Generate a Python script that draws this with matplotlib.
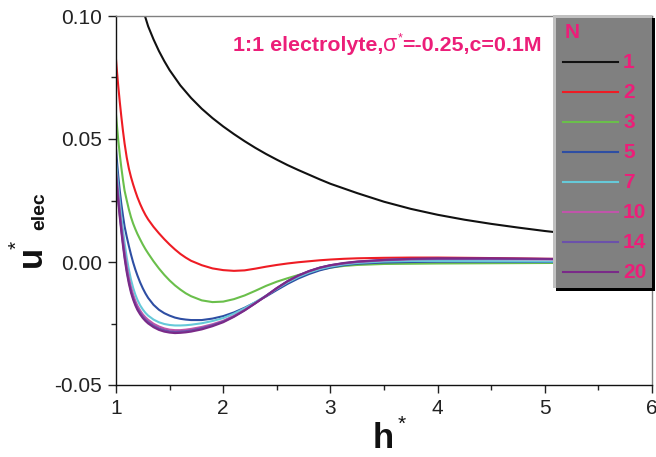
import matplotlib
matplotlib.use('Agg')
import matplotlib.pyplot as plt
from matplotlib.lines import Line2D
from matplotlib.patches import Rectangle
from matplotlib.ticker import MultipleLocator, FixedLocator

plt.rcParams['font.family'] = ['Liberation Sans', 'DejaVu Sans']

# ---------------- data ----------------
N_labels = ['1', '2', '3', '5', '7', '10', '14', '20']
colors = ['#111111', '#ee1c24', '#6abf4b', '#2e4ea3', '#66c9d9', '#c055aa', '#6b51aa', '#7a2a88']

h_N1 = [1.2, 1.25, 1.27, 1.3, 1.35, 1.4, 1.45, 1.5, 1.6, 1.7, 1.8, 1.9, 2.0, 2.1, 2.2, 2.3,
        2.4, 2.5, 2.6, 2.7, 2.8, 2.9, 3.0, 3.25, 3.5, 3.75, 4.0, 4.25, 4.5, 4.75, 5.0,
        5.25, 5.5, 5.75, 6.0]
u_N1 = [0.1120, 0.1035, 0.1000, 0.0958, 0.0905, 0.0858, 0.0817, 0.0780, 0.0718, 0.0667,
        0.0623, 0.0585, 0.0551, 0.0520, 0.0491, 0.0464, 0.0439, 0.0416, 0.0394, 0.0374,
        0.0355, 0.0336, 0.0318, 0.0280, 0.0245, 0.0216, 0.0192, 0.0172, 0.0155, 0.0140,
        0.0126, 0.0114, 0.0104, 0.0095, 0.0087]

h = [1.0, 1.01, 1.02, 1.035, 1.05, 1.065, 1.08,
     1.1, 1.12, 1.14, 1.16, 1.18, 1.2,
     1.225, 1.25, 1.275, 1.3,
     1.35, 1.4, 1.45, 1.5, 1.55, 1.6, 1.65, 1.7,
     1.8, 1.9, 2.0, 2.1, 2.2, 2.3, 2.4, 2.5, 2.6, 2.7, 2.8, 2.9, 3.0,
     3.125, 3.25, 3.5, 3.75, 4.0, 4.5, 5.0, 5.5, 6.0]

u_N2 = [0.0824, 0.0770, 0.0720, 0.0652, 0.0590, 0.0533, 0.0482,
        0.0425, 0.0380, 0.0345, 0.0315, 0.0288, 0.0263,
        0.0236, 0.0212, 0.0191, 0.0173,
        0.0143, 0.0117, 0.0093, 0.0071, 0.0051, 0.0033, 0.0018, 0.0005,
        -0.0013, -0.0026, -0.0033, -0.0036, -0.0034, -0.0027, -0.0019, -0.0012, -0.0006,
        -0.0001, 0.0003, 0.0007, 0.0010,
        0.0013, 0.0015, 0.0017, 0.0018, 0.0018, 0.0016, 0.0013, 0.0011, 0.0009]
u_N3 = [0.0600, 0.0549, 0.0500, 0.0438, 0.0383, 0.0334, 0.0290,
        0.0251, 0.0214, 0.0182, 0.0156, 0.0134, 0.0114,
        0.0092, 0.0071, 0.0052, 0.0035,
        0.0003, -0.0026, -0.0052, -0.0075, -0.0095, -0.0112, -0.0127, -0.0139,
        -0.0156, -0.0163, -0.0161, -0.0151, -0.0136, -0.0117, -0.0097, -0.0080, -0.0066,
        -0.0053, -0.0041, -0.0031, -0.0023,
        -0.0016, -0.0012, -0.0008, -0.0007, -0.0006, -0.0005, -0.0004, -0.0003, -0.0003]
u_N5 = [0.0460, 0.0405, 0.0355, 0.0290, 0.0235, 0.0188, 0.0145,
        0.0103, 0.0065, 0.0030, -0.0002, -0.0030, -0.0055,
        -0.0083, -0.0107, -0.0128, -0.0146,
        -0.0174, -0.0194, -0.0208, -0.0218, -0.0226, -0.0231, -0.0234, -0.0236,
        -0.0236, -0.0230, -0.0220, -0.0205, -0.0186, -0.0164, -0.0140, -0.0114, -0.0089,
        -0.0067, -0.0049, -0.0034, -0.0023,
        -0.0013, -0.0007, -0.0002, 0.0000, 0.0001, 0.0001, 0.0000, 0.0000, 0.0000]
u_N7 = [0.0410, 0.0361, 0.0314, 0.0247, 0.0186, 0.0130, 0.0078,
        0.0018, -0.0031, -0.0072, -0.0105, -0.0132, -0.0154,
        -0.0176, -0.0193, -0.0207, -0.0218,
        -0.0234, -0.0245, -0.0252, -0.0256, -0.0258, -0.0258, -0.0257, -0.0255,
        -0.0249, -0.0240, -0.0228, -0.0210, -0.0188, -0.0163, -0.0137, -0.0109, -0.0083,
        -0.0061, -0.0043, -0.0029, -0.0019,
        -0.0010, -0.0004, 0.0002, 0.0004, 0.0004, 0.0003, 0.0002, 0.0001, 0.0001]
u_N10 = [0.0372, 0.0324, 0.0277, 0.0210, 0.0149, 0.0093, 0.0042,
         -0.0017, -0.0064, -0.0103, -0.0133, -0.0158, -0.0178,
         -0.0197, -0.0213, -0.0225, -0.0235,
         -0.0251, -0.0262, -0.0270, -0.0275, -0.0277, -0.0277, -0.0275, -0.0272,
         -0.0264, -0.0253, -0.0239, -0.0219, -0.0195, -0.0167, -0.0138, -0.0107, -0.0079,
         -0.0056, -0.0038, -0.0024, -0.0014,
         -0.0006, 0.0000, 0.0007, 0.0011, 0.0012, 0.0012, 0.0011, 0.0009, 0.0007]
u_N14 = [0.0355, 0.0307, 0.0260, 0.0193, 0.0132, 0.0076, 0.0025,
         -0.0033, -0.0079, -0.0117, -0.0146, -0.0170, -0.0189,
         -0.0207, -0.0222, -0.0234, -0.0244,
         -0.0259, -0.0270, -0.0277, -0.0282, -0.0284, -0.0283, -0.0281, -0.0278,
         -0.0269, -0.0257, -0.0242, -0.0221, -0.0196, -0.0167, -0.0137, -0.0106, -0.0078,
         -0.0055, -0.0037, -0.0023, -0.0013,
         -0.0005, 0.0001, 0.0008, 0.0012, 0.0013, 0.0013, 0.0012, 0.0010, 0.0008]
u_N20 = [0.0345, 0.0297, 0.0250, 0.0183, 0.0122, 0.0066, 0.0015,
         -0.0042, -0.0088, -0.0125, -0.0153, -0.0176, -0.0195,
         -0.0213, -0.0228, -0.0240, -0.0250,
         -0.0265, -0.0276, -0.0283, -0.0287, -0.0289, -0.0288, -0.0286, -0.0283,
         -0.0274, -0.0261, -0.0245, -0.0223, -0.0197, -0.0168, -0.0138, -0.0106, -0.0078,
         -0.0055, -0.0037, -0.0023, -0.0013,
         -0.0004, 0.0002, 0.0009, 0.0013, 0.0015, 0.0015, 0.0013, 0.0011, 0.0009]

x_ticks = [1, 2, 3, 4, 5, 6]
y_ticks = [-0.05, 0.00, 0.05, 0.10]
y_ticklabels = ['-0.05', '0.00', '0.05', '0.10']

annotation = ['1:1 electrolyte,', 'σ', '*', '=-0.25,c=0.1M']
pink = '#ec1e79'

# ---------------- figure ----------------
W, H = 656, 457
fig = plt.figure(figsize=(W / 100, H / 100), dpi=100)
ax_l, ax_r, ax_t, ax_b = 116, 652, 16, 385
ax = fig.add_axes([ax_l / W, 1 - ax_b / H, (ax_r - ax_l) / W, (ax_b - ax_t) / H])

series = [(h_N1, u_N1), (h, u_N2), (h, u_N3), (h, u_N5), (h, u_N7), (h, u_N10), (h, u_N14), (h, u_N20)]
for (hx, uy), c in zip(series, colors):
    ax.plot(hx, uy, color=c, lw=1.5, solid_joinstyle='round')

ax.set_xlim(1, 6)
ax.set_ylim(-0.05, 0.10)
ax.xaxis.set_major_locator(FixedLocator(x_ticks))
ax.xaxis.set_minor_locator(MultipleLocator(0.5))
ax.yaxis.set_major_locator(FixedLocator(y_ticks))
ax.yaxis.set_minor_locator(MultipleLocator(0.025))
ax.set_xticklabels([str(v) for v in x_ticks])
ax.set_yticklabels(y_ticklabels)
ax.tick_params(which='major', direction='out', length=6, width=1, labelsize=15,
               colors='#222222', pad=4)
ax.tick_params(which='minor', direction='out', length=3.5, width=1, colors='#222222')
for s in ['left', 'bottom']:
    ax.spines[s].set_color('#111111')
    ax.spines[s].set_linewidth(1.0)
for s in ['top', 'right']:
    ax.spines[s].set_color('#808080')
    ax.spines[s].set_linewidth(1.0)


def fx(px):
    return px / W


def fy(py):
    return 1 - py / H


# axis labels built from pieces
fig.text(fx(31), fy(256.5), 'u', rotation=90, fontsize=25, fontweight='bold',
         ha='center', va='center', color='#111111')
fig.text(fx(17), fy(245), '*', rotation=90, fontsize=15, ha='center', va='center',
         color='#111111')
fig.text(fx(40), fy(211), 'elec', rotation=90, fontsize=14, fontweight='bold',
         ha='center', va='center', color='#111111')

fig.text(fx(383), fy(439), 'h', fontsize=25, fontweight='bold', ha='center', va='center',
         color='#111111')
fig.text(fx(402), fy(424), '*', fontsize=15, ha='center', va='center', color='#111111')

# annotation text composed from pieces
renderer = fig.canvas.get_renderer()
xcur = 233
base = 51
styles = [dict(fontsize=15.4, fontweight='bold', dy=0),
          dict(fontsize=16.5, fontweight='normal', dy=0),
          dict(fontsize=9, fontweight='normal', dy=-10),
          dict(fontsize=15.4, fontweight='bold', dy=0)]
for txt, st in zip(annotation, styles):
    t = fig.text(fx(xcur), fy(base + st['dy']), txt, fontsize=st['fontsize'],
                 fontweight=st['fontweight'], color=pink, ha='left', va='baseline')
    bb = t.get_window_extent(renderer)
    xcur += bb.width

# legend box
lx0, lx1, ly0, ly1 = 553, 652, 15, 288
fig.add_artist(Rectangle((fx(lx0 + 3), fy(ly1 + 3)), (lx1 - lx0) / W, (ly1 - ly0) / H,
                         transform=fig.transFigure, facecolor='#000000', edgecolor='none', zorder=5))
fig.add_artist(Rectangle((fx(lx0), fy(ly1)), (lx1 - lx0) / W, (ly1 - ly0) / H,
                         transform=fig.transFigure, facecolor='#c0c0c0', edgecolor='none', zorder=6))
fig.add_artist(Rectangle((fx(lx0 + 3), fy(ly1)), (lx1 - lx0 - 3) / W, (ly1 - ly0 - 3) / H,
                         transform=fig.transFigure, facecolor='#808080', edgecolor='none', zorder=7))
fig.text(fx(565), fy(32.5), 'N', fontsize=15, fontweight='bold', color=pink,
         ha='left', va='center', zorder=8)
for i, (lab, c) in enumerate(zip(N_labels, colors)):
    yy = 62 + 30 * i
    fig.add_artist(Line2D([fx(563), fx(618)], [fy(yy), fy(yy)], transform=fig.transFigure,
                          color=c, lw=1.5, zorder=8))
    fig.text(fx(623), fy(yy), lab, fontsize=15, fontweight='bold', color=pink,
             ha='left', va='center', zorder=8)

fig.savefig('out.png', dpi=100)
